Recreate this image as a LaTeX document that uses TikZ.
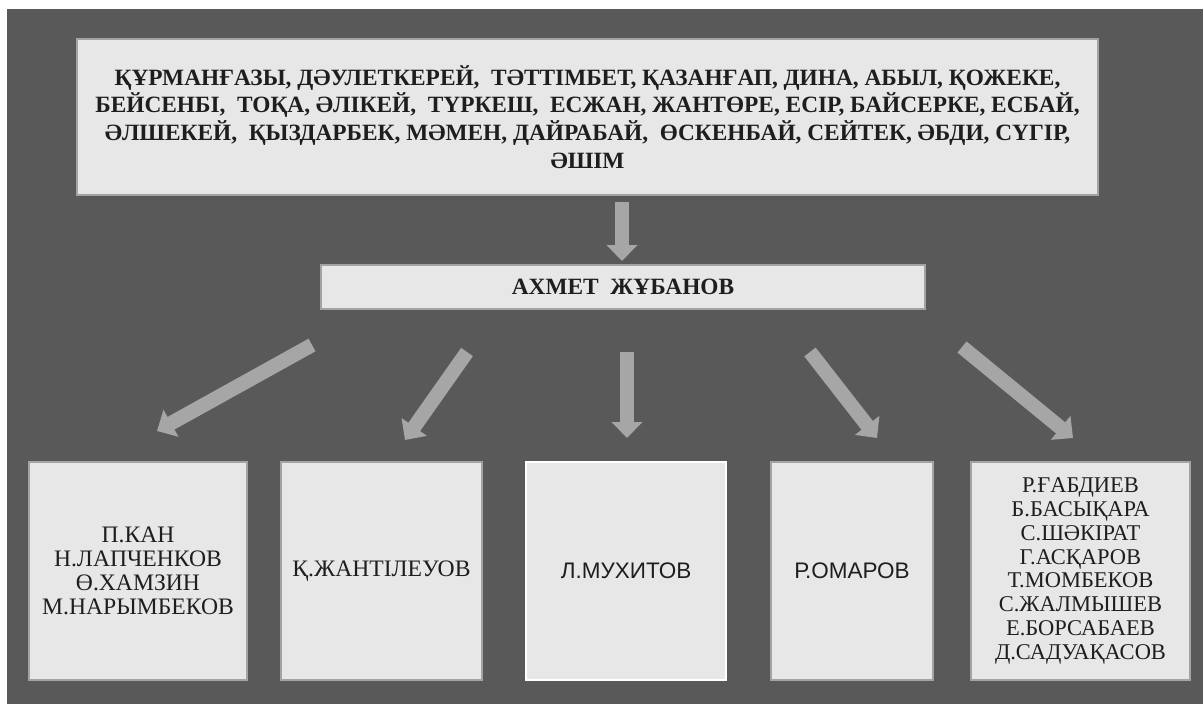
\documentclass[tikz,border=0pt]{standalone}
\usepackage{fontspec}
\setmainfont{Liberation Serif}
\setsansfont{Liberation Sans}
\usetikzlibrary{arrows.meta}
\definecolor{backgr}{HTML}{595959}
\definecolor{boxfill}{HTML}{E7E7E7}
\definecolor{boxline}{HTML}{A3A3A3}
\definecolor{arrowgray}{HTML}{A6A6A6}
\definecolor{textgray}{HTML}{1E1E1E}
\tikzset{
  namebox/.style={draw=boxline, line width=1.2pt, fill=boxfill, text=textgray,
    align=center, inner sep=0pt, font={\fontsize{16.8pt}{17pt}\selectfont}},
  listbox/.style={namebox, font={\fontsize{16pt}{17pt}\selectfont}},
  headbox/.style={namebox, font={\fontsize{16.6pt}{19.7pt}\selectfont\bfseries}},
  sansbox/.style={namebox, font={\fontsize{16pt}{17pt}\selectfont\sffamily}},
  bigarrow/.style={draw=arrowgray, line width=0.36cm,
    -{Triangle[width=0.75cm, length=0.4cm]}}
}
\begin{document}
\begin{tikzpicture}[x=0.025cm, y=-0.025cm]
    \useasboundingbox (0,0) rectangle (1203,704);
    \fill[backgr] (7,9) rectangle (1203,704);
    % upper part
    \node[headbox, minimum width=1021*0.025cm, minimum height=156*0.025cm] (composers) at (587.5,117)
      {ҚҰРМАНҒАЗЫ, ДӘУЛЕТКЕРЕЙ, \ ТӘТТІМБЕТ, ҚАЗАНҒАП, ДИНА, АБЫЛ, ҚОЖЕКЕ,\\
       БЕЙСЕНБІ, \ ТОҚА, ӘЛІКЕЙ, \ ТҮРКЕШ, \ ЕСЖАН, ЖАНТӨРЕ, ЕСІР, БАЙСЕРКЕ, ЕСБАЙ,\\
       ӘЛШЕКЕЙ, \ ҚЫЗДАРБЕК, МӘМЕН, ДАЙРАБАЙ, \ ӨСКЕНБАЙ, СЕЙТЕК, ӘБДИ, СҮГІР,\\
       ӘШІМ};
    \node[headbox, minimum width=604*0.025cm, minimum height=44*0.025cm] (zhubanov) at (623,287)
      {АХМЕТ \ ЖҰБАНОВ};
    % pupils
    \node[namebox, minimum width=218*0.025cm, minimum height=218*0.025cm] (kan) at (138,571)
      {П.КАН\\Н.ЛАПЧЕНКОВ\\Ө.ХАМЗИН\\М.НАРЫМБЕКОВ};
    \node[namebox, minimum width=201*0.025cm, minimum height=218*0.025cm] (zhantileuov) at (381.5,571)
      {\raisebox{-4pt}{Қ.ЖАНТІЛЕУОВ}};
    \node[sansbox, draw=white, minimum width=200*0.025cm, minimum height=218*0.025cm] (mukhitov) at (626,571)
      {\raisebox{-3pt}{Л.МУХИТОВ}};
    \node[sansbox, minimum width=162*0.025cm, minimum height=218*0.025cm] (omarov) at (852,571)
      {\raisebox{-3pt}{Р.ОМАРОВ}};
    \node[listbox, minimum width=219*0.025cm, minimum height=218*0.025cm] (gabdiev) at (1080.5,571)
      {Р.ҒАБДИЕВ\\Б.БАСЫҚАРА\\С.ШӘКІРАТ\\Г.АСҚАРОВ\\Т.МОМБЕКОВ\\С.ЖАЛМЫШЕВ\\Е.БОРСАБАЕВ\\Д.САДУАҚАСОВ};
    % arrow ends
    \coordinate (c0) at (622,202);  \coordinate (e0) at (622,261);
    \coordinate (c1) at (312,345);  \coordinate (e1) at (157,431);
    \coordinate (c2) at (467,352);  \coordinate (e2) at (405,440);
    \coordinate (c3) at (627,352);  \coordinate (e3) at (627,438);
    \coordinate (c4) at (810,352);  \coordinate (e4) at (877,438);
    \coordinate (c5) at (962,347);  \coordinate (e5) at (1073,438);
    \foreach \i in {0,...,5}
      \draw[bigarrow] (c\i) -- (e\i);
\end{tikzpicture}
\end{document}
